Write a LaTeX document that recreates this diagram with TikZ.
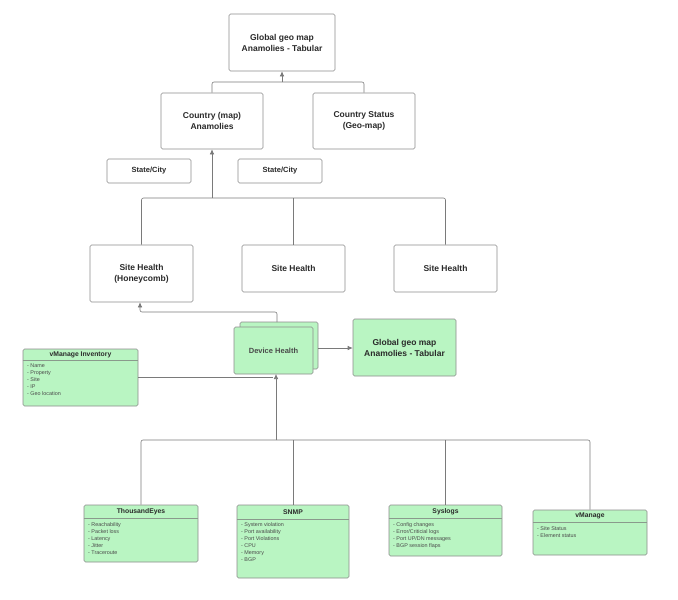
\documentclass[tikz,border=0pt]{standalone}
\usepackage{fontspec}
\setmainfont{Liberation Sans}
\usetikzlibrary{arrows.meta}
\definecolor{bx}{HTML}{8C8C8C}
\definecolor{ln}{HTML}{7A7A7A}
\definecolor{hl}{HTML}{8A9A8C}
\definecolor{gf}{HTML}{B9F5C2}
\definecolor{tx}{HTML}{2A2A2A}
\begin{document}
\begin{tikzpicture}[x=1pt,y=-1pt,
  big/.style={draw=bx,line width=0.6pt,rounded corners=1.5pt,fill=white,inner sep=0pt,align=center,
    font=\fontsize{8.5}{11}\selectfont\bfseries,text=tx},
  small/.style={big,font=\fontsize{7.5}{9}\selectfont\bfseries},
  gbox/.style={draw=bx,line width=0.6pt,rounded corners=1.5pt,fill=gf,inner sep=0pt},
  hline/.style={draw=hl,line width=0.7pt},
  hdr/.style={inner sep=0pt,font=\fontsize{6.8}{7}\selectfont\bfseries,text=tx},
  lst/.style={inner sep=0pt,anchor=north west,align=left,font=\fontsize{5.4}{7}\selectfont,text=tx!85},
  conn/.style={draw=ln,line width=0.6pt,rounded corners=2pt},
  arr/.style={conn,-{Latex[length=5pt,width=4.5pt]}}]
\useasboundingbox (0,0) rectangle (678,600);

% top level
\node[big,minimum width=106pt,minimum height=57pt] (top) at (282,42.5) {Global geo map\\Anamolies - Tabular};
\node[big,minimum width=102pt,minimum height=56pt] (cm) at (212,121) {Country (map)\\Anamolies};
\node[big,minimum width=102pt,minimum height=56pt] (cs) at (364,121) {Country Status\\(Geo-map)};
\node[small,minimum width=84pt,minimum height=24pt] (st1) at (149,171) {State/City};
\node[small,minimum width=84pt,minimum height=24pt] (st2) at (280,171) {State/City};

% site health
\node[big,minimum width=103pt,minimum height=57pt] (s1) at (141.5,273.5) {Site Health\\(Honeycomb)};
\node[big,minimum width=103pt,minimum height=47pt] (s2) at (293.5,268.5) {Site Health};
\node[big,minimum width=103pt,minimum height=47pt] (s3) at (445.5,268.5) {Site Health};

% device health
\node[gbox,minimum width=78pt,minimum height=47pt] (dhb) at (279,345.5) {};
\node[gbox,minimum width=79pt,minimum height=47pt,font=\fontsize{7.5}{9}\selectfont\bfseries,text=tx!85] (dh) at (273.5,350.5) {Device Health};
\node[big,fill=gf,minimum width=103pt,minimum height=57pt] (g2) at (404.5,347.5) {Global geo map\\Anamolies - Tabular};

% vManage Inventory
\node[gbox,minimum width=115pt,minimum height=57pt] (inv) at (80.5,377.5) {};
\draw[hline] (inv.west |- 0,360) -- (inv.east |- 0,360);
\node[hdr] (invh) at (80.5,354.5) {vManage Inventory};
\node[lst] (invl) at (27,364) {- Name\\- Property\\- Site\\- IP\\- Geo location};

% bottom sources
\node[gbox,minimum width=114pt,minimum height=57pt] (te) at (141,533.5) {};
\draw[hline] (te.west |- 0,518) -- (te.east |- 0,518);
\node[hdr] (teh) at (141,511.5) {ThousandEyes};
\node[lst] (tel) at (88,522) {- Reachability\\- Packet loss\\- Latency\\- Jitter\\- Traceroute};

\node[gbox,minimum width=112pt,minimum height=73pt] (sn) at (293,541.5) {};
\draw[hline] (sn.west |- 0,519) -- (sn.east |- 0,519);
\node[hdr] (snh) at (293,512) {SNMP};
\node[lst] (snl) at (241,522) {- System violation\\- Port availability\\- Port Violations\\- CPU\\- Memory\\- BGP};

\node[gbox,minimum width=113pt,minimum height=51pt] (sy) at (445.5,530.5) {};
\draw[hline] (sy.west |- 0,518) -- (sy.east |- 0,518);
\node[hdr] (syh) at (445.5,511.5) {Syslogs};
\node[lst] (syl) at (393,522) {- Config changes\\- Error/Criticial logs\\- Port UP/DN messages\\- BGP session flaps};

\node[gbox,minimum width=114pt,minimum height=45pt] (vm) at (590,532.5) {};
\draw[hline] (vm.west |- 0,522) -- (vm.east |- 0,522);
\node[hdr] (vmh) at (590,515.5) {vManage};
\node[lst] (vml) at (537,526) {- Site Status\\- Element status};

% connectors
\coordinate (b1) at (top.south |- 0,82);
\draw[conn] (cm.north) |- (b1) -| (cs.north);
\draw[arr] (b1) -- (top.south);

\coordinate (b2) at (cm.south |- 0,198);
\draw[conn] (s1.north) |- (b2) -| (s3.north);
\draw[conn] (s2.north) -- (s2.north |- b2);
\draw[arr] (b2) -- (cm.south);

\coordinate (d1) at (277,322);
\draw[arr] (d1) |- (140,312) -- (s1.south -| 140,0);

\draw[arr] (dhb.east |- 0,348) -- (g2.west |- 0,348);

\coordinate (dhin) at (276,374);
\coordinate (b3) at (276,440);
\draw[conn] (inv.east |- 0,377) -- (273,377);
\draw[conn] (te.north) |- (b3) -| (vm.north);
\draw[conn] (sn.north) -- (sn.north |- b3);
\draw[conn] (sy.north) -- (sy.north |- b3);
\draw[arr] (b3) -- (dhin);
\end{tikzpicture}
\end{document}
